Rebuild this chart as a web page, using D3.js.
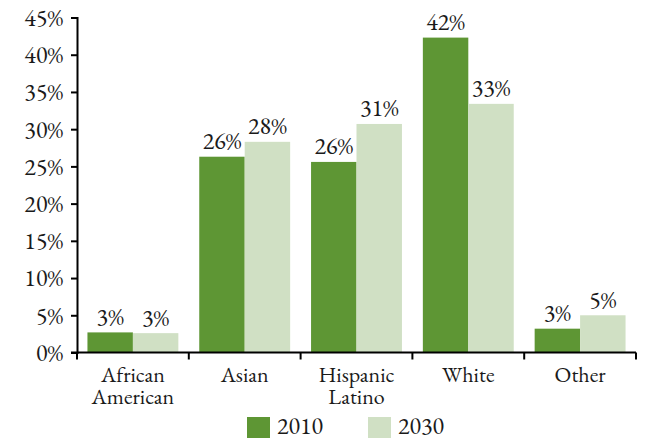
<!DOCTYPE html>
<html>
<head>
<meta charset="utf-8">
<script src="https://cdn.jsdelivr.net/npm/d3@7"></script>
<style>
  html, body { margin: 0; padding: 0; background: #fff; }
</style>
</head>
<body>
<svg id="chart" width="649" height="438"></svg>
<script>
// Population share by group, 2010 vs 2030
const categories = [["African", "American"], ["Asian"], ["Hispanic", "Latino"], ["White"], ["Other"]];
const seriesNames = ["2010", "2030"];
const values2010 = [0.027, 0.263, 0.256, 0.423, 0.032];
const values2030 = [0.026, 0.283, 0.307, 0.334, 0.050];
const yTicks = [0, 0.05, 0.10, 0.15, 0.20, 0.25, 0.30, 0.35, 0.40, 0.45];
const colors = ["#5e9634", "#d0e0c4"];

const FONT = '"EB Garamond", "Liberation Serif", serif';
const INK = "#1a1a1a";

const svg = d3.select("#chart").style("font-family", FONT);
const plot = { left: 77, right: 636, top: 17.5, bottom: 352.5 };

const catKeys = categories.map(c => c.join(" "));
const x0 = d3.scaleBand().domain(catKeys).range([plot.left, plot.right]).padding(0);
const x1 = d3.scaleBand().domain(seriesNames).range([0, x0.bandwidth()]).paddingInner(0).paddingOuter(0.23);
const y = d3.scaleLinear().domain([0, 0.45]).range([plot.bottom, plot.top]);
const color = d3.scaleOrdinal().domain(seriesNames).range(colors);

const rows = catKeys.map((k, i) => ({ key: k, vals: [
  { s: "2010", v: values2010[i] },
  { s: "2030", v: values2030[i] }
]}));

// Bars
const groups = svg.append("g").selectAll("g").data(rows).join("g")
  .attr("transform", d => `translate(${x0(d.key)},0)`);

groups.selectAll("rect").data(d => d.vals).join("rect")
  .attr("x", d => x1(d.s))
  .attr("width", x1.bandwidth())
  .attr("y", d => y(d.v))
  .attr("height", d => y(0) - y(d.v))
  .attr("fill", d => color(d.s));

// Value labels
groups.selectAll("text.val").data(d => d.vals).join("text")
  .attr("class", "val")
  .attr("x", d => x1(d.s) + x1.bandwidth() / 2)
  .attr("y", d => y(d.v) - 7.5)
  .attr("text-anchor", "middle")
  .style("font-family", FONT)
  .style("font-size", "24px")
  .style("fill", INK)
  .text(d => d3.format(".0%")(d.v));

// Y axis
const yAxis = svg.append("g")
  .attr("transform", `translate(${plot.left},0)`)
  .call(d3.axisLeft(y).tickValues(yTicks).tickFormat(d3.format(".0%")).tickSize(6).tickSizeOuter(6).tickPadding(8));
yAxis.select(".domain").attr("stroke", "#000").attr("stroke-width", 2);
yAxis.selectAll(".tick line").attr("stroke", "#000").attr("stroke-width", 2);
yAxis.selectAll(".tick text")
  .style("font-family", FONT)
  .style("font-size", "24px")
  .style("fill", INK)
  .attr("dy", "0.33em");

// X axis with category boundary ticks
const xAxis = svg.append("g")
  .attr("transform", `translate(0,${plot.bottom})`);
xAxis.append("line")
  .attr("x1", plot.left - 6).attr("x2", plot.right)
  .attr("stroke", "#000").attr("stroke-width", 2);
const bounds = catKeys.map(k => x0(k)).concat([x0(catKeys[catKeys.length - 1]) + x0.bandwidth()]);
xAxis.selectAll("line.bt").data(bounds).join("line")
  .attr("class", "bt")
  .attr("x1", d => d).attr("x2", d => d)
  .attr("y1", 0).attr("y2", 7)
  .attr("stroke", "#000").attr("stroke-width", 2);

// Category labels, one text per line
const catLines = [];
categories.forEach((lines, i) => lines.forEach((t, j) => catLines.push({ key: catKeys[i], t, j })));
svg.append("g").selectAll("text").data(catLines).join("text")
  .attr("x", d => x0(d.key) + x0.bandwidth() / 2)
  .attr("y", d => 382 + d.j * 21.5)
  .attr("text-anchor", "middle")
  .style("font-family", FONT)
  .style("font-size", "22px")
  .style("fill", INK)
  .text(d => d.t);

// Legend
const legendX = [247, 368];
const legend = svg.append("g").selectAll("g").data(seriesNames).join("g")
  .attr("transform", (d, i) => `translate(${legendX[i]},417)`);
legend.append("rect").attr("width", 23).attr("height", 21).attr("fill", d => color(d));
legend.append("text")
  .attr("x", 30).attr("y", 17)
  .style("font-family", FONT)
  .style("font-size", "24px")
  .style("fill", INK)
  .text(d => d);
</script>
</body>
</html>
